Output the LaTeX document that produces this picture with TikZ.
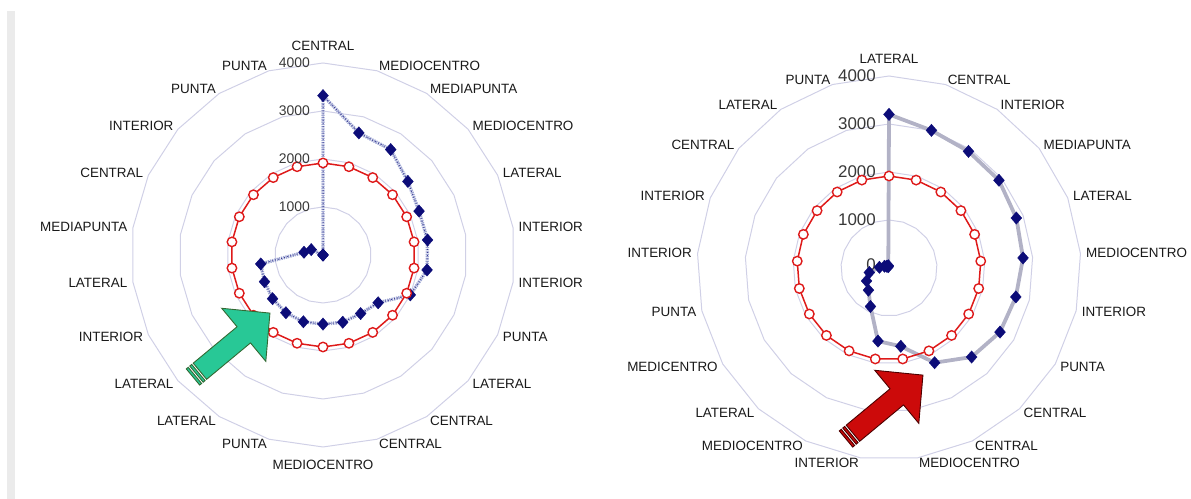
\documentclass[tikz,border=0pt]{standalone}
\usepackage{fontspec}
\setmainfont{Liberation Sans}
\usetikzlibrary{shapes.geometric}

\definecolor{ringgray}{RGB}{208,208,230}
\definecolor{navyblue}{RGB}{12,12,120}
\definecolor{redline}{RGB}{222,26,26}
\definecolor{hatchblue}{RGB}{160,168,212}
\definecolor{lightline}{RGB}{178,178,198}
\definecolor{arrowgreen}{RGB}{40,200,150}
\definecolor{arrowred}{RGB}{204,10,10}
\definecolor{bargray}{RGB}{235,235,235}

\tikzset{
  ring/.style={draw=ringgray, line width=1},
  lbl/.style={font=\fontsize{13.5}{15}\selectfont, text=black!90, inner sep=0.5},
  ticklbl/.style={text=black!78, inner sep=0, anchor=east},
  dmark/.style={diamond, fill=navyblue, draw=navyblue, inner sep=0, minimum width=11, minimum height=12.5},
  omark/.style={circle, fill=white, draw=redline, line width=1.4, inner sep=0, minimum size=9.5},
  redser/.style={draw=redline, line width=1.5},
}

\newcommand{\stripearrow}[2]{%
  \filldraw[fill=#1, draw=#2, line width=0.9] (0,-10.5) rectangle (2.5,10.5);
  \filldraw[fill=#1, draw=#2, line width=0.9] (4.5,-10.5) rectangle (7,10.5);
  \filldraw[fill=#1, draw=#2, line width=0.9] (9,-10.5) -- (66,-10.5) -- (66,-34.5)
    -- (100,0) -- (66,34.5) -- (66,10.5) -- (9,10.5) -- cycle;
}

\begin{document}
\begin{tikzpicture}[x=1bp, y=1bp]
  \useasboundingbox (0,0) rectangle (1191,499);
  \fill[bargray] (7,0) rectangle (15,488);

  % left chart
  \begin{scope}[shift={(323,244)}]
    \foreach \r in {48,96,144,192}
      \draw[ring] (90:\r) \foreach \k in {1,...,21}{ -- ({90-\k*360/22}:\r)} -- cycle;
    \foreach \v [count=\i from 0] in {3320,2650,2610,2340,2200,2200,2190,2000,1520,1450,1460,
        1440,1450,1430,1390,1340,1310,400,270,0,0,0}
      \coordinate (lp\i) at ({90-\i*360/22}:{\v*0.048});
    \foreach \i in {0,...,21}
      \coordinate (lq\i) at ({90-\i*360/22}:92);
    \draw[hatchblue, line width=3.4, dash pattern=on 1.4 off 0.9]
      (lp0) \foreach \i in {1,...,21}{ -- (lp\i)} -- cycle;
    \draw[navyblue!80, line width=1, dash pattern=on 1 off 2.2]
      (lp0) \foreach \i in {1,...,21}{ -- (lp\i)} -- cycle;
    \foreach \i in {0,...,21}
      \node[dmark] (ld\i) at (lp\i) {};
    \draw[redser] (lq0) \foreach \i in {1,...,21}{ -- (lq\i)} -- cycle;
    \foreach \i in {0,...,21}
      \node[omark] (lo\i) at (lq\i) {};
    \foreach \v [count=\i] in {1000,2000,3000,4000}
      \node[ticklbl, font=\fontsize{14}{16}\selectfont] (lt\i) at (-13,\i*48) {\v};
    \foreach \t [count=\i from 0] in {CENTRAL,MEDIOCENTRO,MEDIAPUNTA,MEDIOCENTRO,LATERAL,
        INTERIOR,INTERIOR,PUNTA,LATERAL,CENTRAL,CENTRAL,MEDIOCENTRO,PUNTA,LATERAL,LATERAL,
        INTERIOR,LATERAL,MEDIAPUNTA,CENTRAL,INTERIOR,PUNTA,PUNTA}{
      \pgfmathsetmacro\a{90-\i*360/22}
      \pgfmathsetmacro\c{cos(\a)}
      \ifdim\c pt>0.05pt \def\anc{west}\def\rr{197}\else
        \ifdim\c pt<-0.05pt \def\anc{east}\def\rr{197}\else
          \def\rr{204}\ifdim\a pt>0pt \def\anc{south}\else\def\anc{north}\fi
        \fi
      \fi
      \node[lbl, anchor=\anc] (ll\i) at (\a:\rr) {\t};
    }
  \end{scope}

  % right chart
  \begin{scope}[shift={(889,231)}]
    \foreach \r in {48,96,144,192}
      \draw[ring] (90:\r) \foreach \k in {1,...,20}{ -- ({90-\k*360/21}:\r)} -- cycle;
    \foreach \v [count=\i from 0] in {3200,3000,2940,2930,2850,2800,2710,2670,2530,2190,1650,
        1540,890,630,540,420,200,100,60,30,50}
      \coordinate (rp\i) at ({90-\i*360/21}:{\v*0.048});
    \foreach \i in {0,...,20}
      \coordinate (rq\i) at ({90-\i*360/21}:92);
    \draw[lightline, line width=3.8]
      (rp0) \foreach \i in {1,...,20}{ -- (rp\i)} -- cycle;
    \foreach \v [count=\i] in {1000,2000,3000,4000}
      \node[ticklbl, font=\fontsize{17}{19}\selectfont] (rt\i) at (-13,\i*48) {\v};
    \node[ticklbl, font=\fontsize{17}{19}\selectfont] (rt0) at (-13,3) {0};
    \foreach \i in {0,...,20}
      \node[dmark] (rd\i) at (rp\i) {};
    \draw[redser] (rq0) \foreach \i in {1,...,20}{ -- (rq\i)} -- cycle;
    \foreach \i in {0,...,20}
      \node[omark] (ro\i) at (rq\i) {};
    \foreach \t [count=\i from 0] in {LATERAL,CENTRAL,INTERIOR,MEDIAPUNTA,LATERAL,MEDIOCENTRO,
        INTERIOR,PUNTA,CENTRAL,CENTRAL,MEDIOCENTRO,INTERIOR,MEDIOCENTRO,LATERAL,MEDICENTRO,
        PUNTA,INTERIOR,INTERIOR,CENTRAL,LATERAL,PUNTA}{
      \pgfmathsetmacro\a{90-\i*360/21}
      \pgfmathsetmacro\c{cos(\a)}
      \ifdim\c pt>0.05pt \def\anc{west}\def\rr{197}\else
        \ifdim\c pt<-0.05pt \def\anc{east}\def\rr{197}\else
          \def\rr{204}\ifdim\a pt>0pt \def\anc{south}\else\def\anc{north}\fi
        \fi
      \fi
      \node[lbl, anchor=\anc] (rl\i) at (\a:\rr) {\t};
    }
  \end{scope}

  % arrows
  \begin{scope}[shift={(193,122)}, rotate=39.7]
    \stripearrow{arrowgreen}{black!65!green!60!gray}
  \end{scope}
  \begin{scope}[shift={(846,60)}, rotate=39.7]
    \stripearrow{arrowred}{black!70!red}
  \end{scope}
\end{tikzpicture}
\end{document}
